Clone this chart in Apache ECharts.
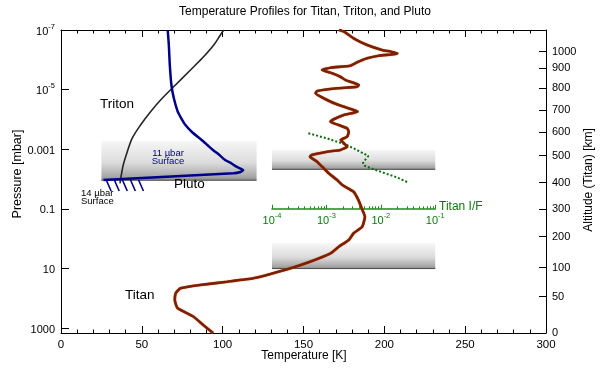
<!DOCTYPE html>
<html><head><meta charset="utf-8">
<script src="https://cdn.jsdelivr.net/npm/echarts@6/dist/echarts.min.js"></script>
<style>html,body{margin:0;padding:0;background:#fff}#c{width:600px;height:372px}</style>
</head><body><div id="c"></div>
<script>
// ---------------- data ----------------
const pressureTicks = [1e-7, 1e-5, 1e-3, 0.1, 10, 1000];
const pressureTickLabels = ['10^-7', '10^-5', '0.001', '0.1', '10', '1000'];
const altitudeTicks = [0, 50, 100, 200, 300, 400, 500, 600, 700, 800, 900, 1000];
const altitudePressures = [1467, 89.1, 9.46, 0.863, 0.104, 0.0131, 1.65e-3, 2.71e-4, 4.84e-5, 9.04e-6, 1.93e-6, 5.35e-7];
const ifTicks = [1e-4, 1e-3, 1e-2, 1e-1];
const ifTickLabels = ['10^-4', '10^-3', '10^-2', '10^-1'];

const titanT = [172,175,181,189.4,198.6,203.8,208,205.8,196.5,189.4,183.2,179,166.7,161.5,167.7,172.8,176,182,184.2,183.2,170.8,158.5,157.4,164.6,171.8,181,183.5,174.9,168.7,166.7,171.8,177,178,177,173,175,177,172.8,164.6,155,154,158.4,161.5,165.6,170.8,174,181,184,186,188,186.3,181,178,171.8,166.7,154,142,129.6,119,102.8,86,73.9,71,70.4,72,82,88,94.1];
const titanP = [1.0e-7,1.14e-7,1.9e-7,3.2e-7,4.7e-7,5.3e-7,6.0e-7,6.5e-7,7.3e-7,8.9e-7,1.21e-6,1.58e-6,1.84e-6,2.2e-6,2.84e-6,3.7e-6,4.8e-6,6.2e-6,7.0e-6,8.0e-6,9.0e-6,1.11e-5,1.33e-5,2.23e-5,3.3e-5,4.8e-5,5.5e-5,7.1e-5,9.9e-5,1.19e-4,1.54e-4,1.99e-4,2.59e-4,3.8e-4,4.9e-4,6.3e-4,8.2e-4,1.06e-3,1.21e-3,1.57e-3,1.79e-3,2.62e-3,3.86e-3,6.4e-3,1.08e-2,1.59e-2,2.67e-2,5.1e-2,9.6e-2,0.184,0.40,0.66,1.11,1.87,3.11,5.96,9.9,15.4,21.5,27.9,36.0,46.5,67,115,213,418,793,1467];

const tritonT = [100.7,98.6,94.5,87.3,79,70.8,62.6,55.4,49.2,44,41,38.5,37,36.5];
const tritonP = [1e-7,1.47e-7,3.18e-7,8.9e-7,2.51e-6,7.0e-6,1.96e-5,5.5e-5,1.54e-4,4.3e-4,1.21e-3,3.39e-3,9.2e-3,1.4e-2];

const plutoT = [66,66.7,67.3,68.3,69.8,72.2,74.3,77,81,87,90.5,94,98,101.5,105.5,108.5,111,112.7,111,106.7,26.3];
const plutoP = [1e-7,3.18e-7,1.49e-6,7.0e-6,1.96e-5,5.5e-5,8.97e-5,1.54e-4,2.65e-4,4.9e-4,7.2e-4,1.06e-3,1.57e-3,2.30e-3,3.02e-3,3.86e-3,4.45e-3,4.99e-3,5.82e-3,6.44e-3,1.08e-2];

const titanIF = [4.66e-4,1.02e-3,2.37e-3,4.17e-3,5.9e-3,5.15e-3,4.68e-3,5.15e-3,1.12e-2,1.97e-2,3.23e-2];
const titanIFP = [2.92e-4,4.3e-4,7.2e-4,1.21e-3,1.69e-3,2.30e-3,2.97e-3,3.66e-3,6.15e-3,8.77e-3,1.33e-2];

const bandTmin = [25, 130.5, 130.5];
const bandTmax = [121, 231.5, 231.5];
const bandPtop = [5.3e-4, 1.06e-3, 1.44];
const bandPbot = [0.011, 4.73e-3, 10.1];

const hatchT = [28, 33, 38, 43, 48];
const hatchPtop = 0.0108;
const hatchPbot = 0.0253;
const hatchSlantK = 3;

// ---------------- helpers ----------------
const lg = Math.log10;
const LPMIN = lg(1e-7), LPMAX = lg(1467);
const FONT = '"Liberation Sans", Arial, Helvetica, sans-serif';
const GL = 61, GT = 30, GW = 485, GH = 303;
const IF_GRID_LP_BOTTOM = lg(0.1);

function sup(s) {
  const i = s.indexOf('^');
  if (i < 0) return '{a|' + s + '}';
  return '{a|' + s.slice(0, i) + '}{b|' + s.slice(i + 1) + '}';
}
function pick(vals, labels, v) {
  for (let i = 0; i < vals.length; i++) if (Math.abs(vals[i] - v) < 1e-6) return labels[i];
  return '';
}
const pLP = pressureTicks.map(lg);
const altLP = altitudePressures.map(lg);
const ifLP = ifTicks.map(lg);
const ifMinor = [];
[-4, -3, -2].forEach(n => { for (let k = 2; k <= 9; k++) ifMinor.push(n + lg(k)); });

const zip = (a, b) => a.map((v, i) => [v, lg(b[i])]);
const bandsData = bandTmin.map((t, i) => [t, bandTmax[i], lg(bandPtop[i]), lg(bandPbot[i])]);

const richLbl = (size, color) => ({
  a: {fontSize: size, fontFamily: FONT, color: color, lineHeight: size + 3, verticalAlign: 'bottom'},
  b: {fontSize: size * 0.68, fontFamily: FONT, color: color, lineHeight: size + 3, verticalAlign: 'top'}
});

const tickX = {show: true, inside: true, length: 7, lineStyle: {color: '#000', width: 1}};
const minorX = {show: true, splitNumber: 5, length: 3.5, lineStyle: {color: '#000', width: 1}};
const axLine = {show: true, onZero: false, lineStyle: {color: '#000', width: 1}};

// ---------------- chart ----------------
const chart = echarts.init(document.getElementById('c'), null, {renderer: 'canvas'});
const ifGridLeft = GL + 130.5 * GW / 300;
const ifGridW = (231.5 - 130.5) * GW / 300;
const ifGridH = GH * (IF_GRID_LP_BOTTOM - LPMIN) / (LPMAX - LPMIN);

function renderBand(params, api) {
  const a = api.coord([api.value(0), api.value(2)]);
  const b = api.coord([api.value(1), api.value(3)]);
  return {type: 'group', children: [
    {type: 'rect', shape: {x: a[0], y: a[1], width: b[0] - a[0], height: b[1] - a[1]},
     style: {fill: new echarts.graphic.LinearGradient(0, 0, 0, 1, [
       {offset: 0, color: '#f6f6f6'}, {offset: 0.55, color: '#dcdcdc'},
       {offset: 0.9, color: '#a9a9a9'}, {offset: 1, color: '#8c8c8c'}])}},
    {type: 'line', shape: {x1: a[0], y1: b[1], x2: b[0], y2: b[1]}, style: {stroke: '#4a4a4a', lineWidth: 1}}
  ]};
}
function renderHatch(params, api) {
  const t = api.value(0);
  const a = api.coord([t, lg(hatchPtop)]);
  const b = api.coord([t + hatchSlantK, lg(hatchPbot)]);
  return {type: 'line', shape: {x1: a[0], y1: a[1], x2: b[0], y2: b[1]},
          style: {stroke: '#000080', lineWidth: 1.6}};
}

const txt = (text, x, y, o) => Object.assign({
  type: 'text', x: x, y: y, z: 10,
  style: Object.assign({text: text, fill: '#000', fontSize: 12, fontFamily: FONT,
                        align: 'center', verticalAlign: 'middle'}, (o && o.style) || {})
}, o && o.rotation ? {rotation: o.rotation} : {});

chart.setOption({
  animation: false,
  backgroundColor: '#fff',
  textStyle: {fontFamily: FONT},
  grid: [
    {left: GL, top: GT, width: GW, height: GH, outerBoundsMode: 'none', containLabel: false},
    {left: ifGridLeft, top: GT, width: ifGridW, height: ifGridH, outerBoundsMode: 'none', containLabel: false}
  ],
  xAxis: [
    {type: 'value', gridIndex: 0, position: 'bottom', min: 0, max: 300, interval: 50,
     axisLine: axLine, axisTick: tickX, minorTick: minorX, splitLine: {show: false},
     axisLabel: {fontSize: 11.5, color: '#000', margin: 6, fontFamily: FONT}},
    {type: 'value', gridIndex: 0, position: 'top', min: 0, max: 300, interval: 50,
     axisLine: axLine, axisTick: tickX, minorTick: minorX, splitLine: {show: false},
     axisLabel: {show: false}},
    {type: 'value', gridIndex: 1, position: 'bottom', min: -4, max: -1,
     axisLine: {show: true, onZero: false, lineStyle: {color: '#1a8a1a', width: 1.6}},
     axisTick: {show: true, inside: true, length: 4, customValues: ifLP, lineStyle: {color: '#1a8a1a', width: 1}},
     splitLine: {show: false},
     axisLabel: {customValues: ifLP, margin: 4, formatter: v => sup(pick(ifLP, ifTickLabels, v)),
                 rich: richLbl(11, '#0b7a0b')}},
    {type: 'value', gridIndex: 1, position: 'bottom', min: -4, max: -1,
     axisLine: {show: false, onZero: false}, splitLine: {show: false}, axisLabel: {show: false},
     axisTick: {show: true, inside: true, length: 2.5, customValues: ifMinor, lineStyle: {color: '#1a8a1a', width: 1}}}
  ],
  yAxis: [
    {type: 'value', gridIndex: 0, position: 'left', min: LPMIN, max: LPMAX, inverse: true,
     axisLine: axLine, splitLine: {show: false},
     axisTick: {show: true, inside: true, length: 8, customValues: pLP, lineStyle: {color: '#000'}},
     axisLabel: {customValues: pLP, margin: 6, formatter: v => sup(pick(pLP, pressureTickLabels, v)),
                 rich: richLbl(11, '#000')}},
    {type: 'value', gridIndex: 0, position: 'right', min: LPMIN, max: LPMAX, inverse: true,
     axisLine: axLine, splitLine: {show: false},
     axisTick: {show: true, inside: true, length: 7, customValues: altLP, lineStyle: {color: '#000'}},
     axisLabel: {customValues: altLP, margin: 6, fontSize: 11, color: '#000', fontFamily: FONT,
                 formatter: v => String(pick(altLP, altitudeTicks, v))}},
    {type: 'value', gridIndex: 1, min: LPMIN, max: IF_GRID_LP_BOTTOM, inverse: true, show: false,
     axisLine: {onZero: false}}
  ],
  series: [
    {type: 'custom', name: 'bands', xAxisIndex: 0, yAxisIndex: 0, z: 1, silent: true,
     renderItem: renderBand, encode: {x: [0, 1], y: [2, 3]}, data: bandsData},
    {type: 'custom', name: 'hatch', xAxisIndex: 0, yAxisIndex: 0, z: 3, silent: true,
     renderItem: renderHatch, encode: {x: 0}, data: hatchT.map(t => [t])},
    {type: 'line', name: 'Triton', xAxisIndex: 0, yAxisIndex: 0, z: 4, showSymbol: false, smooth: 0.3,
     data: zip(tritonT, tritonP), lineStyle: {color: '#262626', width: 1.6}},
    {type: 'line', name: 'Pluto', xAxisIndex: 0, yAxisIndex: 0, z: 4, showSymbol: false, smooth: 0.2,
     data: zip(plutoT, plutoP), lineStyle: {color: '#00008b', width: 2.5}},
    {type: 'line', name: 'Titan I/F', xAxisIndex: 2, yAxisIndex: 2, z: 5, showSymbol: false,
     data: zip(titanIF, titanIFP).map(d => [lg(d[0]), d[1]]),
     lineStyle: {color: '#0b6e0b', width: 2, type: [2, 2]}},
    {type: 'line', name: 'Titan', xAxisIndex: 0, yAxisIndex: 0, z: 6, showSymbol: false, smooth: 0.15,
     data: zip(titanT, titanP),
     lineStyle: {color: '#7e1e02', width: 2.6, shadowColor: 'rgba(200,95,25,0.9)', shadowBlur: 1}}
  ],
  graphic: [
    txt('Temperature Profiles for Titan, Triton, and Pluto', 305, 12, {style: {fontSize: 12}}),
    txt('Temperature [K]', 304, 356, {style: {fontSize: 12}}),
    txt('Pressure [mbar]', 18, 174, {rotation: Math.PI / 2, style: {fontSize: 12.5}}),
    txt('Altitude (Titan) [km]', 589, 180, {rotation: Math.PI / 2, style: {fontSize: 12}}),
    txt('Triton', 100, 104, {style: {fontSize: 13.5, align: 'left'}}),
    txt('Pluto', 174, 184, {style: {fontSize: 13.5, align: 'left'}}),
    txt('Titan', 125, 295, {style: {fontSize: 13.5, align: 'left'}}),
    txt('11 µbar\nSurface', 168, 157, {style: {fontSize: 9.5, lineHeight: 8, fill: '#00008b'}}),
    txt('14 µbar\nSurface', 81, 197.5, {style: {fontSize: 9.5, lineHeight: 8, align: 'left'}}),
    txt('Titan I/F', 439, 207, {style: {fontSize: 12, align: 'left', fill: '#0b7a0b'}})
  ]
});
</script></body></html>
